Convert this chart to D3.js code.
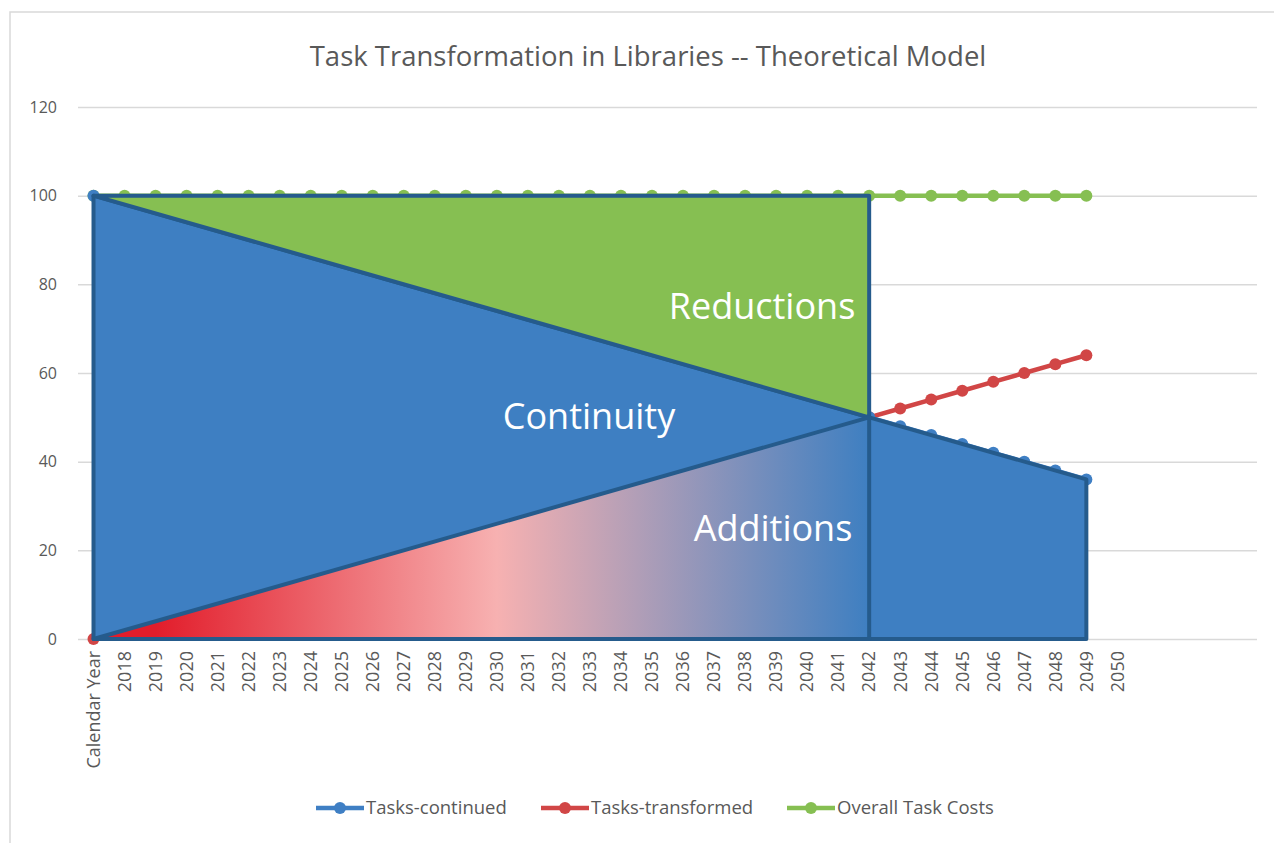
<!DOCTYPE html>
<meta charset="utf-8">
<style>
  body { margin: 0; background: #fff; }
  text { font-family: "Open Sans", Lato, sans-serif; }
</style>
<svg width="1274" height="843" id="chart"></svg>
<script src="https://d3js.org/d3.v7.min.js"></script>
<script>

// category labels (4 empty slots at the end, as in the sheet)
var years = ["Calendar Year", "2018", "2019", "2020", "2021", "2022", "2023", "2024", "2025",
  "2026", "2027", "2028", "2029", "2030", "2031", "2032", "2033", "2034", "2035", "2036",
  "2037", "2038", "2039", "2040", "2041", "2042", "2043", "2044", "2045", "2046", "2047",
  "2048", "2049", "2050", "", "", "", ""];

var tasksContinued = [100, 98, 96, 94, 92, 90, 88, 86, 84, 82, 80, 78, 76, 74, 72, 70, 68,
  66, 64, 62, 60, 58, 56, 54, 52, 50, 48, 46, 44, 42, 40, 38, 36];
var tasksTransformed = [0, 2, 4, 6, 8, 10, 12, 14, 16, 18, 20, 22, 24, 26, 28, 30, 32,
  34, 36, 38, 40, 42, 44, 46, 48, 50, 52, 54, 56, 58, 60, 62, 64];
var overallCosts = [100, 100, 100, 100, 100, 100, 100, 100, 100, 100, 100, 100, 100, 100, 100,
  100, 100, 100, 100, 100, 100, 100, 100, 100, 100, 100, 100, 100, 100, 100, 100, 100, 100];

var yTicks = [0, 20, 40, 60, 80, 100, 120];

var seriesNames = ["Tasks-continued", "Tasks-transformed", "Overall Task Costs"];
var seriesColors = ["#3f7fc4", "#d14646", "#86bf52"];

var svg = d3.select("#chart");

// chart frame
svg.append("rect")
  .attr("x", 10).attr("y", 12)
  .attr("width", 1300).attr("height", 900)
  .attr("fill", "none").attr("stroke", "#d9d9d9").attr("stroke-width", 1.5);

svg.append("text")
  .attr("x", 648).attr("y", 66)
  .attr("text-anchor", "middle")
  .attr("font-size", "27.5px")
  .attr("fill", "#595959")
  .text("Task Transformation in Libraries -- Theoretical Model");

var x = d3.scaleBand()
  .domain(d3.range(years.length))
  .range([78, 1257]);

var y = d3.scaleLinear()
  .domain([0, 120])
  .range([639, 107]);

function cx(i) { return x(i) + x.bandwidth() / 2; }

// gridlines + y labels
var yr = svg.append("g").attr("transform", "translate(78,0)")
  .call(d3.axisLeft(y).tickValues(yTicks).tickSize(-(1257 - 78)).tickPadding(21));
yr.select(".domain").remove();
yr.selectAll("line").attr("stroke", "#d9d9d9").attr("stroke-width", 1.5);
yr.selectAll("text").attr("font-size", "16px").attr("fill", "#595959")
  .style("font-family", "'Open Sans', Lato, sans-serif");

// x labels
var xr = svg.append("g").attr("transform", "translate(0,639)")
  .call(d3.axisBottom(x).tickSize(0).tickFormat(function(i) { return years[i]; }));
xr.select(".domain").remove();
xr.selectAll("text")
  .attr("transform", "rotate(-90)")
  .attr("x", -12).attr("y", 0).attr("dy", "0.35em")
  .attr("text-anchor", "end")
  .attr("font-size", "18px").attr("fill", "#595959")
  .style("font-family", "'Open Sans', Lato, sans-serif");

// series lines
var allSeries = [tasksContinued, tasksTransformed, overallCosts];
var line = d3.line().x(function(d, i) { return cx(i); }).y(function(d) { return y(d); });

[2, 1, 0].forEach(function(k) {
  var g = svg.append("g");
  g.append("path").datum(allSeries[k])
    .attr("d", line)
    .attr("fill", "none")
    .attr("stroke", seriesColors[k])
    .attr("stroke-width", 4.5);
  g.selectAll("circle").data(allSeries[k]).enter().append("circle")
    .attr("cx", function(d, i) { return cx(i); })
    .attr("cy", function(d) { return y(d); })
    .attr("r", 6)
    .attr("fill", seriesColors[k]);
});

// overlay shapes built from the series
var last = tasksContinued.length - 1;
var cross = tasksContinued.findIndex(function(v, i) { return v === tasksTransformed[i]; });

function pt(i, v) { return [cx(i), y(v)]; }
var poly = d3.line();

var defs = svg.append("defs");
var grad = defs.append("linearGradient").attr("id", "addGrad")
  .attr("gradientUnits", "userSpaceOnUse")
  .attr("x1", cx(0)).attr("x2", cx(cross)).attr("y1", 0).attr("y2", 0);
grad.append("stop").attr("offset", "0.08").attr("stop-color", "#e21d2b");
grad.append("stop").attr("offset", "0.52").attr("stop-color", "#f7b1b1");
grad.append("stop").attr("offset", "1").attr("stop-color", "#3e7fc1");

var edge = "#255b8c";

svg.append("path")
  .attr("d", poly([pt(0, tasksContinued[0]), pt(cross, tasksContinued[cross]),
    pt(last, tasksContinued[last]), pt(last, 0), pt(0, 0)]) + "Z")
  .attr("fill", "#3e7fc2").attr("stroke", edge).attr("stroke-width", 4)
  .attr("stroke-linejoin", "round");

svg.append("path")
  .attr("d", poly([pt(0, overallCosts[0]), pt(cross, overallCosts[cross]),
    pt(cross, tasksContinued[cross])]) + "Z")
  .attr("fill", "#86bf52").attr("stroke", edge).attr("stroke-width", 4)
  .attr("stroke-linejoin", "round");

svg.append("path")
  .attr("d", poly([pt(0, tasksTransformed[0]), pt(cross, tasksTransformed[cross]),
    pt(cross, 0)]) + "Z")
  .attr("fill", "url(#addGrad)").attr("stroke", edge).attr("stroke-width", 4)
  .attr("stroke-linejoin", "round");

// region labels
var regions = [
  { t: "Reductions", x: 762, y: 319 },
  { t: "Continuity", x: 589, y: 429 },
  { t: "Additions", x: 773, y: 541 }
];
svg.selectAll(".reg").data(regions).enter().append("text")
  .attr("class", "reg")
  .attr("x", function(d) { return d.x; })
  .attr("y", function(d) { return d.y; })
  .attr("text-anchor", "middle")
  .attr("font-size", "36px")
  .attr("fill", "#ffffff")
  .text(function(d) { return d.t; });

// legend
var legX = [316, 541, 787];
var leg = svg.selectAll(".leg").data(seriesNames).enter().append("g")
  .attr("class", "leg")
  .attr("transform", function(d, i) { return "translate(" + legX[i] + ",808)"; });
leg.append("line").attr("x1", 0).attr("x2", 48).attr("y1", 0).attr("y2", 0)
  .attr("stroke", function(d, i) { return seriesColors[i]; })
  .attr("stroke-width", 4.5);
leg.append("circle").attr("cx", 24).attr("cy", 0).attr("r", 6)
  .attr("fill", function(d, i) { return seriesColors[i]; });
leg.append("text").attr("x", 50).attr("y", 0).attr("dy", "0.35em")
  .attr("font-size", "18.5px").attr("fill", "#595959")
  .text(function(d) { return d; });

</script>
